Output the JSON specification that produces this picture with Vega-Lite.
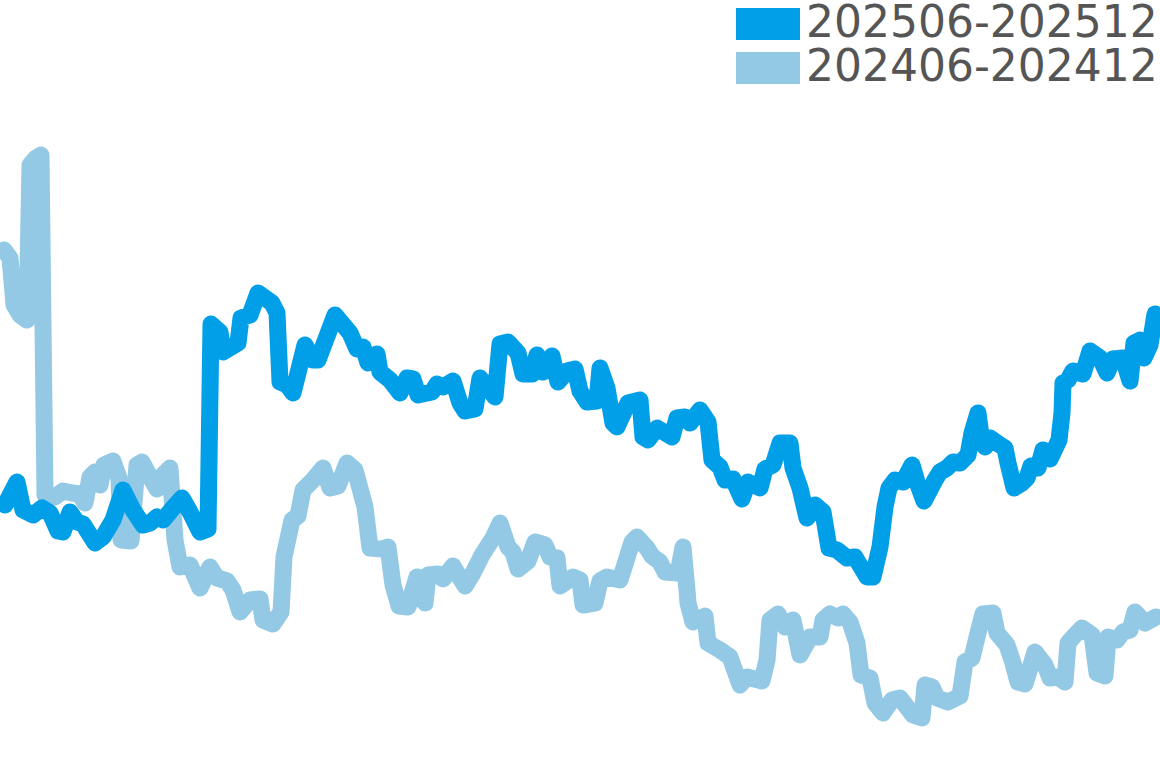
{
  "$schema": "https://vega.github.io/schema/vega-lite/v6.json",
  "width": 1160,
  "height": 768,
  "autosize": {"type": "none"},
  "padding": 0,
  "config": {"view": {"stroke": null}},
  "data": {"values": [
    {"s":"202406-202412","t":4,"v":518},{"s":"202406-202412","t":10,"v":510},{"s":"202406-202412","t":14,"v":463},{"s":"202406-202412","t":20,"v":453},{"s":"202406-202412","t":27,"v":448},{"s":"202406-202412","t":30,"v":603},{"s":"202406-202412","t":36,"v":610},{"s":"202406-202412","t":41,"v":613},{"s":"202406-202412","t":45,"v":273},{"s":"202406-202412","t":55,"v":271},
    {"s":"202406-202412","t":63,"v":277},{"s":"202406-202412","t":72,"v":275},{"s":"202406-202412","t":80,"v":274},{"s":"202406-202412","t":85,"v":265},{"s":"202406-202412","t":90,"v":291},{"s":"202406-202412","t":95,"v":296},{"s":"202406-202412","t":100,"v":283},{"s":"202406-202412","t":104,"v":303},{"s":"202406-202412","t":113,"v":307},{"s":"202406-202412","t":119,"v":290},
    {"s":"202406-202412","t":121,"v":228},{"s":"202406-202412","t":131,"v":227},{"s":"202406-202412","t":137,"v":303},{"s":"202406-202412","t":142,"v":306},{"s":"202406-202412","t":150,"v":291},{"s":"202406-202412","t":157,"v":279},{"s":"202406-202412","t":163,"v":293},{"s":"202406-202412","t":170,"v":300},{"s":"202406-202412","t":175,"v":228},{"s":"202406-202412","t":180,"v":201},
    {"s":"202406-202412","t":190,"v":203},{"s":"202406-202412","t":200,"v":180},{"s":"202406-202412","t":210,"v":201},{"s":"202406-202412","t":217,"v":190},{"s":"202406-202412","t":227,"v":187},{"s":"202406-202412","t":233,"v":178},{"s":"202406-202412","t":240,"v":156},{"s":"202406-202412","t":250,"v":168},{"s":"202406-202412","t":260,"v":169},{"s":"202406-202412","t":263,"v":148},
    {"s":"202406-202412","t":273,"v":144},{"s":"202406-202412","t":281,"v":156},{"s":"202406-202412","t":284,"v":211},{"s":"202406-202412","t":292,"v":248},{"s":"202406-202412","t":298,"v":252},{"s":"202406-202412","t":303,"v":278},{"s":"202406-202412","t":313,"v":288},{"s":"202406-202412","t":323,"v":300},{"s":"202406-202412","t":330,"v":280},{"s":"202406-202412","t":338,"v":282},
    {"s":"202406-202412","t":347,"v":305},{"s":"202406-202412","t":355,"v":298},{"s":"202406-202412","t":365,"v":261},{"s":"202406-202412","t":370,"v":220},{"s":"202406-202412","t":383,"v":219},{"s":"202406-202412","t":388,"v":221},{"s":"202406-202412","t":393,"v":183},{"s":"202406-202412","t":399,"v":162},{"s":"202406-202412","t":408,"v":161},{"s":"202406-202412","t":417,"v":191},
    {"s":"202406-202412","t":425,"v":165},{"s":"202406-202412","t":428,"v":193},{"s":"202406-202412","t":438,"v":194},{"s":"202406-202412","t":443,"v":189},{"s":"202406-202412","t":453,"v":202},{"s":"202406-202412","t":465,"v":182},{"s":"202406-202412","t":473,"v":195},{"s":"202406-202412","t":482,"v":213},{"s":"202406-202412","t":493,"v":230},{"s":"202406-202412","t":500,"v":245},
    {"s":"202406-202412","t":508,"v":221},{"s":"202406-202412","t":513,"v":216},{"s":"202406-202412","t":518,"v":199},{"s":"202406-202412","t":528,"v":207},{"s":"202406-202412","t":535,"v":226},{"s":"202406-202412","t":545,"v":223},{"s":"202406-202412","t":550,"v":211},{"s":"202406-202412","t":557,"v":210},{"s":"202406-202412","t":560,"v":182},{"s":"202406-202412","t":573,"v":191},
    {"s":"202406-202412","t":580,"v":188},{"s":"202406-202412","t":583,"v":163},{"s":"202406-202412","t":595,"v":165},{"s":"202406-202412","t":600,"v":187},{"s":"202406-202412","t":607,"v":191},{"s":"202406-202412","t":620,"v":188},{"s":"202406-202412","t":632,"v":226},{"s":"202406-202412","t":637,"v":231},{"s":"202406-202412","t":647,"v":220},{"s":"202406-202412","t":652,"v":212},
    {"s":"202406-202412","t":660,"v":206},{"s":"202406-202412","t":665,"v":196},{"s":"202406-202412","t":678,"v":195},{"s":"202406-202412","t":683,"v":221},{"s":"202406-202412","t":687,"v":178},{"s":"202406-202412","t":688,"v":165},{"s":"202406-202412","t":693,"v":146},{"s":"202406-202412","t":705,"v":152},{"s":"202406-202412","t":708,"v":125},{"s":"202406-202412","t":720,"v":118},
    {"s":"202406-202412","t":730,"v":111},{"s":"202406-202412","t":740,"v":83},{"s":"202406-202412","t":747,"v":91},{"s":"202406-202412","t":762,"v":87},{"s":"202406-202412","t":767,"v":108},{"s":"202406-202412","t":770,"v":148},{"s":"202406-202412","t":778,"v":154},{"s":"202406-202412","t":785,"v":141},{"s":"202406-202412","t":793,"v":148},{"s":"202406-202412","t":800,"v":113},
    {"s":"202406-202412","t":810,"v":131},{"s":"202406-202412","t":820,"v":131},{"s":"202406-202412","t":823,"v":148},{"s":"202406-202412","t":830,"v":154},{"s":"202406-202412","t":838,"v":150},{"s":"202406-202412","t":843,"v":154},{"s":"202406-202412","t":850,"v":146},{"s":"202406-202412","t":857,"v":125},{"s":"202406-202412","t":861,"v":93},{"s":"202406-202412","t":870,"v":90},
    {"s":"202406-202412","t":875,"v":65},{"s":"202406-202412","t":883,"v":55},{"s":"202406-202412","t":892,"v":68},{"s":"202406-202412","t":900,"v":70},{"s":"202406-202412","t":913,"v":53},{"s":"202406-202412","t":922,"v":50},{"s":"202406-202412","t":925,"v":83},{"s":"202406-202412","t":932,"v":81},{"s":"202406-202412","t":937,"v":70},{"s":"202406-202412","t":948,"v":66},
    {"s":"202406-202412","t":960,"v":72},{"s":"202406-202412","t":965,"v":106},{"s":"202406-202412","t":972,"v":110},{"s":"202406-202412","t":978,"v":135},{"s":"202406-202412","t":983,"v":154},{"s":"202406-202412","t":993,"v":155},{"s":"202406-202412","t":997,"v":135},{"s":"202406-202412","t":1007,"v":123},{"s":"202406-202412","t":1013,"v":105},{"s":"202406-202412","t":1018,"v":86},
    {"s":"202406-202412","t":1025,"v":84},{"s":"202406-202412","t":1035,"v":116},{"s":"202406-202412","t":1045,"v":103},{"s":"202406-202412","t":1050,"v":90},{"s":"202406-202412","t":1058,"v":91},{"s":"202406-202412","t":1065,"v":86},{"s":"202406-202412","t":1068,"v":125},{"s":"202406-202412","t":1075,"v":133},{"s":"202406-202412","t":1082,"v":140},{"s":"202406-202412","t":1092,"v":133},
    {"s":"202406-202412","t":1097,"v":95},{"s":"202406-202412","t":1105,"v":92},{"s":"202406-202412","t":1108,"v":131},{"s":"202406-202412","t":1117,"v":128},{"s":"202406-202412","t":1123,"v":136},{"s":"202406-202412","t":1130,"v":138},{"s":"202406-202412","t":1135,"v":156},{"s":"202406-202412","t":1145,"v":145},{"s":"202406-202412","t":1156,"v":151},
    {"s":"202506-202512","t":5,"v":263},{"s":"202506-202512","t":17,"v":286},{"s":"202506-202512","t":23,"v":258},{"s":"202506-202512","t":33,"v":253},{"s":"202506-202512","t":42,"v":260},{"s":"202506-202512","t":50,"v":255},{"s":"202506-202512","t":58,"v":237},{"s":"202506-202512","t":63,"v":236},{"s":"202506-202512","t":70,"v":256},{"s":"202506-202512","t":77,"v":246},
    {"s":"202506-202512","t":83,"v":244},{"s":"202506-202512","t":95,"v":225},{"s":"202506-202512","t":103,"v":231},{"s":"202506-202512","t":113,"v":248},{"s":"202506-202512","t":123,"v":278},{"s":"202506-202512","t":133,"v":258},{"s":"202506-202512","t":143,"v":243},{"s":"202506-202512","t":150,"v":245},{"s":"202506-202512","t":157,"v":251},{"s":"202506-202512","t":163,"v":248},
    {"s":"202506-202512","t":173,"v":260},{"s":"202506-202512","t":182,"v":270},{"s":"202506-202512","t":190,"v":256},{"s":"202506-202512","t":200,"v":236},{"s":"202506-202512","t":208,"v":239},{"s":"202506-202512","t":211,"v":444},{"s":"202506-202512","t":220,"v":436},{"s":"202506-202512","t":223,"v":416},{"s":"202506-202512","t":233,"v":422},{"s":"202506-202512","t":238,"v":425},
    {"s":"202506-202512","t":241,"v":450},{"s":"202506-202512","t":250,"v":453},{"s":"202506-202512","t":258,"v":475},{"s":"202506-202512","t":272,"v":465},{"s":"202506-202512","t":277,"v":455},{"s":"202506-202512","t":280,"v":386},{"s":"202506-202512","t":287,"v":383},{"s":"202506-202512","t":293,"v":375},{"s":"202506-202512","t":305,"v":423},{"s":"202506-202512","t":313,"v":408},
    {"s":"202506-202512","t":318,"v":408},{"s":"202506-202512","t":335,"v":453},{"s":"202506-202512","t":350,"v":435},{"s":"202506-202512","t":357,"v":419},{"s":"202506-202512","t":363,"v":421},{"s":"202506-202512","t":368,"v":405},{"s":"202506-202512","t":377,"v":414},{"s":"202506-202512","t":380,"v":396},{"s":"202506-202512","t":390,"v":388},{"s":"202506-202512","t":400,"v":375},
    {"s":"202506-202512","t":407,"v":390},{"s":"202506-202512","t":413,"v":389},{"s":"202506-202512","t":418,"v":373},{"s":"202506-202512","t":432,"v":376},{"s":"202506-202512","t":437,"v":384},{"s":"202506-202512","t":443,"v":381},{"s":"202506-202512","t":453,"v":387},{"s":"202506-202512","t":460,"v":365},{"s":"202506-202512","t":465,"v":357},{"s":"202506-202512","t":475,"v":359},
    {"s":"202506-202512","t":480,"v":390},{"s":"202506-202512","t":495,"v":371},{"s":"202506-202512","t":500,"v":424},{"s":"202506-202512","t":508,"v":426},{"s":"202506-202512","t":518,"v":415},{"s":"202506-202512","t":523,"v":394},{"s":"202506-202512","t":532,"v":394},{"s":"202506-202512","t":537,"v":413},{"s":"202506-202512","t":543,"v":396},{"s":"202506-202512","t":552,"v":412},
    {"s":"202506-202512","t":558,"v":386},{"s":"202506-202512","t":567,"v":397},{"s":"202506-202512","t":575,"v":399},{"s":"202506-202512","t":580,"v":377},{"s":"202506-202512","t":587,"v":366},{"s":"202506-202512","t":597,"v":367},{"s":"202506-202512","t":600,"v":400},{"s":"202506-202512","t":607,"v":380},{"s":"202506-202512","t":613,"v":345},{"s":"202506-202512","t":617,"v":341},
    {"s":"202506-202512","t":628,"v":365},{"s":"202506-202512","t":640,"v":368},{"s":"202506-202512","t":643,"v":331},{"s":"202506-202512","t":648,"v":328},{"s":"202506-202512","t":657,"v":340},{"s":"202506-202512","t":672,"v":331},{"s":"202506-202512","t":677,"v":350},{"s":"202506-202512","t":685,"v":351},{"s":"202506-202512","t":690,"v":345},{"s":"202506-202512","t":700,"v":358},
    {"s":"202506-202512","t":708,"v":346},{"s":"202506-202512","t":712,"v":308},{"s":"202506-202512","t":720,"v":301},{"s":"202506-202512","t":725,"v":288},{"s":"202506-202512","t":733,"v":289},{"s":"202506-202512","t":742,"v":269},{"s":"202506-202512","t":748,"v":286},{"s":"202506-202512","t":760,"v":280},{"s":"202506-202512","t":765,"v":299},{"s":"202506-202512","t":773,"v":303},
    {"s":"202506-202512","t":780,"v":325},{"s":"202506-202512","t":790,"v":325},{"s":"202506-202512","t":793,"v":300},{"s":"202506-202512","t":800,"v":280},{"s":"202506-202512","t":807,"v":250},{"s":"202506-202512","t":815,"v":263},{"s":"202506-202512","t":823,"v":256},{"s":"202506-202512","t":829,"v":220},{"s":"202506-202512","t":837,"v":218},{"s":"202506-202512","t":847,"v":210},
    {"s":"202506-202512","t":855,"v":211},{"s":"202506-202512","t":867,"v":191},{"s":"202506-202512","t":873,"v":191},{"s":"202506-202512","t":880,"v":221},{"s":"202506-202512","t":885,"v":261},{"s":"202506-202512","t":889,"v":280},{"s":"202506-202512","t":895,"v":288},{"s":"202506-202512","t":903,"v":286},{"s":"202506-202512","t":912,"v":303},{"s":"202506-202512","t":917,"v":286},
    {"s":"202506-202512","t":924,"v":267},{"s":"202506-202512","t":935,"v":288},{"s":"202506-202512","t":940,"v":296},{"s":"202506-202512","t":947,"v":300},{"s":"202506-202512","t":953,"v":306},{"s":"202506-202512","t":960,"v":305},{"s":"202506-202512","t":968,"v":313},{"s":"202506-202512","t":972,"v":335},{"s":"202506-202512","t":978,"v":355},{"s":"202506-202512","t":982,"v":325},
    {"s":"202506-202512","t":985,"v":321},{"s":"202506-202512","t":990,"v":330},{"s":"202506-202512","t":1000,"v":323},{"s":"202506-202512","t":1005,"v":320},{"s":"202506-202512","t":1008,"v":305},{"s":"202506-202512","t":1014,"v":280},{"s":"202506-202512","t":1022,"v":285},{"s":"202506-202512","t":1027,"v":290},{"s":"202506-202512","t":1031,"v":302},{"s":"202506-202512","t":1038,"v":300},
    {"s":"202506-202512","t":1043,"v":318},{"s":"202506-202512","t":1050,"v":309},{"s":"202506-202512","t":1059,"v":328},{"s":"202506-202512","t":1062,"v":355},{"s":"202506-202512","t":1063,"v":385},{"s":"202506-202512","t":1068,"v":388},{"s":"202506-202512","t":1073,"v":397},{"s":"202506-202512","t":1083,"v":394},{"s":"202506-202512","t":1090,"v":417},{"s":"202506-202512","t":1100,"v":410},
    {"s":"202506-202512","t":1107,"v":395},{"s":"202506-202512","t":1113,"v":409},{"s":"202506-202512","t":1123,"v":410},{"s":"202506-202512","t":1130,"v":387},{"s":"202506-202512","t":1134,"v":425},{"s":"202506-202512","t":1140,"v":428},{"s":"202506-202512","t":1144,"v":410},{"s":"202506-202512","t":1150,"v":423},{"s":"202506-202512","t":1155,"v":454}
  ]},
  "encoding": {
    "x": {"field": "t", "type": "quantitative", "scale": {"domain": [0, 1160], "nice": false, "zero": false}, "axis": null},
    "y": {"field": "v", "type": "quantitative", "scale": {"domain": [0, 768], "nice": false}, "axis": null},
    "color": {
      "field": "s",
      "type": "nominal",
      "scale": {"domain": ["202506-202512", "202406-202412"], "range": ["#009FE8", "#93C9E4"]},
      "legend": {
        "title": null,
        "orient": "top-right",
        "offset": 2,
        "padding": 0,
        "symbolType": "M-0.5,-1H3.5V1H-0.5Z",
        "symbolSize": 1024,
        "labelFont": "DejaVu Sans",
        "labelFontSize": 44,
        "labelColor": "#555555",
        "labelOffset": 40,
        "labelLimit": 0,
        "rowPadding": 0,
        "encode": {
          "symbols": {"update": {"fill": {"scale": "color", "field": "value"}, "stroke": {"value": "transparent"}, "strokeWidth": {"value": 0}, "opacity": {"value": 1}}}
        }
      }
    }
  },
  "layer": [
    {
      "transform": [{"filter": "datum.s == '202406-202412'"}],
      "mark": {"type": "line", "strokeWidth": 17, "strokeCap": "round", "strokeJoin": "round"}
    },
    {
      "transform": [{"filter": "datum.s == '202506-202512'"}],
      "mark": {"type": "line", "strokeWidth": 17, "strokeCap": "round", "strokeJoin": "round"}
    }
  ]
}
